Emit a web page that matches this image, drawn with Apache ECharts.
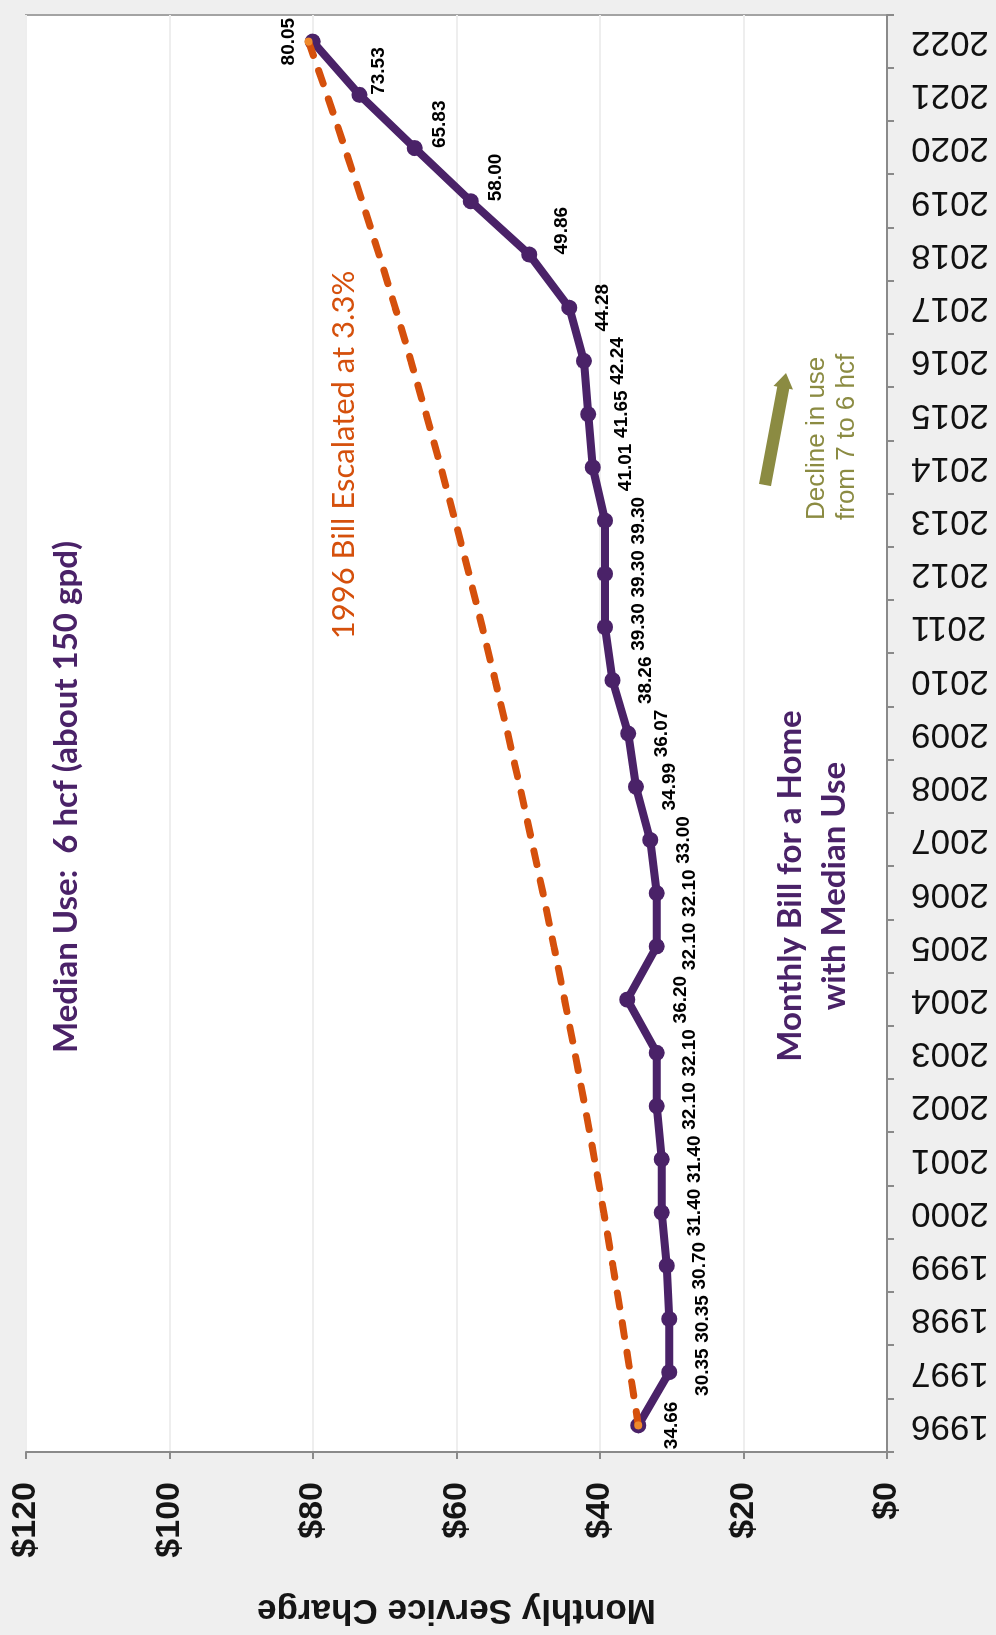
<!DOCTYPE html>
<html>
<head>
<meta charset="utf-8">
<title>Monthly Bill for a Home with Median Use</title>
<script src="https://cdn.jsdelivr.net/npm/echarts@6/dist/echarts.min.js"></script>
<style>
  html, body { margin: 0; padding: 0; background: #efefef; overflow: hidden; }
  #page { position: absolute; left: 0; top: 0; width: 996px; height: 1635px; overflow: hidden; }
  /* the chart is laid out landscape and turned a quarter turn counter-clockwise */
  #chart {
    position: absolute; left: 0; top: 0;
    width: 1635px; height: 996px;
    transform-origin: 0 0;
    transform: translate(0, 1635px) rotate(-90deg);
  }
</style>
</head>
<body>
<div id="page"><div id="chart"></div></div>
<script>
// Years on the category axis
const years = ['1996','1997','1998','1999','2000','2001','2002','2003','2004','2005',
               '2006','2007','2008','2009','2010','2011','2012','2013','2014','2015',
               '2016','2017','2018','2019','2020','2021','2022'];

// Monthly bill for a home with median use ($)
const monthlyBill = [34.66, 30.35, 30.35, 30.70, 31.40, 31.40, 32.10, 32.10, 36.20, 32.10,
                     32.10, 33.00, 34.99, 36.07, 38.26, 39.30, 39.30, 39.30, 41.01, 41.65,
                     42.24, 44.28, 49.86, 58.00, 65.83, 73.53, 80.05];

// 1996 bill escalated at 3.3% per year ($)
const escalatedBill = [34.66, 35.80, 36.99, 38.21, 39.47, 40.77, 42.11, 43.50, 44.94, 46.42,
                       47.95, 49.54, 51.17, 52.86, 54.61, 56.41, 58.27, 60.19, 62.18, 64.23,
                       66.35, 68.54, 70.80, 73.14, 75.55, 78.04, 80.62];

// Years where the escalated series shows a marker
const escalatedMarkerYears = ['1996', '2022'];

// Value axis range
const axisMin = 0, axisMax = 120, axisStep = 20;

// Label placement adjustments for crowded / steep points
const labelPlacement = {
  '2004': { distance: 36 },
  '2018': { align: 'left', distance: 15 },
  '2019': { align: 'left', distance: 7 },
  '2020': { align: 'left', distance: 8 },
  '2021': { align: 'left', distance: 2 },
  '2022': { position: 'top', distance: 6 }
};

const PURPLE = '#4a2268';
const ORANGE = '#d5500c';
const OLIVE = '#8b8b42';
const SANS = '"Liberation Sans", Arial, sans-serif';
const HUMANIST = 'Lato, "Open Sans", sans-serif';

// Block arrow outline from tail to tip
function arrowPoints(tail, tip, shaftHalf, headHalf, headLen) {
  const dx = tip[0] - tail[0], dy = tip[1] - tail[1];
  const len = Math.sqrt(dx * dx + dy * dy);
  const ux = dx / len, uy = dy / len;
  const nx = -uy, ny = ux;
  const bx = tip[0] - ux * headLen, by = tip[1] - uy * headLen;
  return [
    [tail[0] + nx * shaftHalf, tail[1] + ny * shaftHalf],
    [bx + nx * shaftHalf, by + ny * shaftHalf],
    [bx + nx * headHalf, by + ny * headHalf],
    [tip[0], tip[1]],
    [bx - nx * headHalf, by - ny * headHalf],
    [bx - nx * shaftHalf, by - ny * shaftHalf],
    [tail[0] - nx * shaftHalf, tail[1] - ny * shaftHalf]
  ];
}

const billData = monthlyBill.map((v, i) => {
  const tweak = labelPlacement[years[i]];
  return tweak ? { value: v, label: tweak } : v;
});

const escalatedData = escalatedBill.map((v, i) =>
  escalatedMarkerYears.indexOf(years[i]) >= 0
    ? { value: v, symbol: 'circle', symbolSize: 8 }
    : v
);

const chart = echarts.init(document.getElementById('chart'), null, { renderer: 'canvas', width: 1635, height: 996 });

chart.setOption({
  backgroundColor: '#efefef',
  animation: false,
  grid: {
    left: 183, right: 15, top: 26, bottom: 109,
    show: true, backgroundColor: '#ffffff',
    borderColor: '#a3a3a3', borderWidth: 2
  },
  xAxis: {
    type: 'category',
    data: years,
    boundaryGap: true,
    axisLine: { lineStyle: { color: '#8a8a8a', width: 2 } },
    axisTick: { show: true, length: 7, lineStyle: { color: '#8a8a8a', width: 2 } },
    axisLabel: {
      interval: 0, rotate: 90, margin: 24,
      fontSize: 35, color: '#111111', fontFamily: SANS
    },
    splitLine: { show: false }
  },
  yAxis: {
    type: 'value',
    min: axisMin, max: axisMax, interval: axisStep,
    name: 'Monthly Service Charge',
    nameLocation: 'middle',
    nameGap: 140,
    nameTextStyle: { fontSize: 35, fontWeight: 'bold', color: '#151515', fontFamily: SANS },
    axisLine: { show: true, lineStyle: { color: '#8a8a8a', width: 2 } },
    axisTick: { show: true, length: 7, lineStyle: { color: '#8a8a8a', width: 2 } },
    axisLabel: {
      formatter: v => '$' + v,
      margin: 30, fontSize: 34, fontWeight: 'bold', color: '#151515', fontFamily: SANS
    },
    splitLine: { show: true, lineStyle: { color: '#eeeeee', width: 2 } }
  },
  series: [
    {
      name: 'Monthly Bill for a Home with Median Use',
      type: 'line',
      data: billData,
      z: 3,
      symbol: 'circle',
      symbolSize: 16,
      lineStyle: { color: PURPLE, width: 8 },
      itemStyle: { color: PURPLE },
      label: {
        show: true,
        position: 'bottom',
        distance: 16,
        formatter: p => monthlyBill[p.dataIndex].toFixed(2),
        fontSize: 19, fontWeight: 'bold', color: '#000000', fontFamily: SANS
      }
    },
    {
      name: '1996 Bill Escalated at 3.3%',
      type: 'line',
      data: escalatedData,
      z: 4,
      symbol: 'none',
      lineStyle: { color: ORANGE, width: 7, type: [14, 16], cap: 'round' },
      itemStyle: { color: '#f08a2c' }
    }
  ],
  graphic: [
    {
      type: 'text', x: 838, y: 66, z: 10,
      style: {
        text: 'Median Use:  6 hcf (about 150 gpd)',
        fill: PURPLE, fontSize: 33, fontWeight: 'bold', fontFamily: HUMANIST,
        align: 'center', verticalAlign: 'middle'
      }
    },
    {
      type: 'text', x: 1180, y: 344, z: 10,
      style: {
        text: '1996 Bill Escalated at 3.3%',
        fill: ORANGE, fontSize: 31, fontFamily: HUMANIST,
        align: 'center', verticalAlign: 'middle'
      }
    },
    {
      type: 'text', x: 749, y: 812, z: 10,
      style: {
        text: 'Monthly Bill for a Home\nwith Median Use',
        fill: PURPLE, fontSize: 33, fontWeight: 'bold', fontFamily: HUMANIST,
        lineHeight: 44, align: 'center', verticalAlign: 'middle'
      }
    },
    {
      type: 'text', x: 1115, y: 832, z: 10,
      style: {
        text: 'Decline in use\nfrom 7 to 6 hcf',
        fill: OLIVE, fontSize: 26, fontFamily: SANS,
        lineHeight: 30, align: 'left', verticalAlign: 'middle'
      }
    },
    {
      type: 'polygon', z: 10,
      shape: { points: arrowPoints([1150, 765], [1262, 786], 6, 10, 15) },
      style: { fill: OLIVE }
    }
  ]
});
</script>
</body>
</html>
